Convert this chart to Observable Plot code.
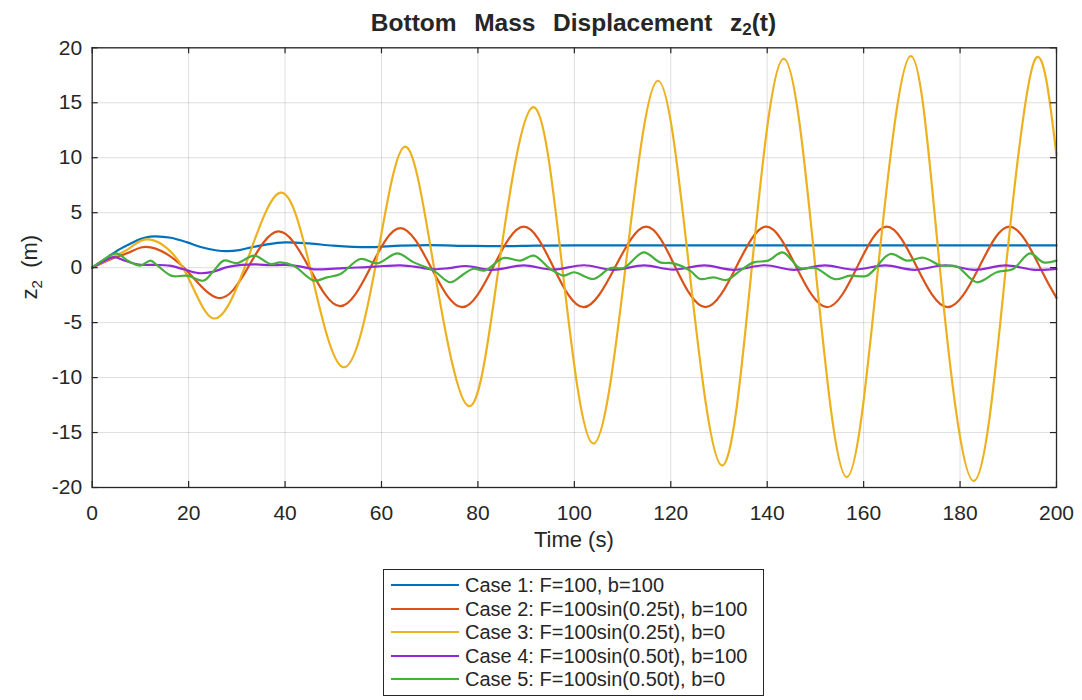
<!DOCTYPE html>
<html><head><meta charset="utf-8">
<script src="https://cdn.jsdelivr.net/npm/d3@7"></script>
<script src="https://cdn.jsdelivr.net/npm/@observablehq/plot@0.6"></script>
<style>
body{margin:0;background:#fff;font-family:"Liberation Sans",Arial,Helvetica,sans-serif;color:#262626;width:1082px;height:700px;overflow:hidden;position:relative;}
#title{position:absolute;left:91px;width:965px;top:0;height:40px;text-align:center;font-weight:bold;font-size:24.5px;line-height:46px;white-space:pre;word-spacing:2px;}
#title sub{font-size:17px;vertical-align:-4px;line-height:0;}
#chart{position:absolute;left:0;top:40px;}
#legend{position:absolute;left:383px;top:569px;width:379px;border:1px solid #262626;padding:3px 0 4px 0;font-size:20px;background:#fff;}
.row{line-height:1;display:flex;align-items:center;white-space:nowrap;}
.sw{width:68px;height:2px;margin-left:7px;margin-right:6px;flex:none;}
</style></head>
<body>
<div id="title">Bottom  Mass  Displacement  z<sub>2</sub>(t)</div>
<div id="chart"></div>
<div id="legend"></div>
<script>
const xTicks = [0,20,40,60,80,100,120,140,160,180,200];
const yTicks = [-20,-15,-10,-5,0,5,10,15,20];
const seriesNames = [
  "Case 1: F=100, b=100",
  "Case 2: F=100sin(0.25t), b=100",
  "Case 3: F=100sin(0.25t), b=0",
  "Case 4: F=100sin(0.50t), b=100",
  "Case 5: F=100sin(0.50t), b=0"
];
const seriesColors = ["#0072BD","#D95319","#EDB120","#8E2BD6","#46B03C"];

// [time (s), z2 (m)]
const case1 = [[0,0],[2,0.6],[4,1.2],[6,1.75],[8,2.2],[10,2.6],[12,2.82],[14,2.83],[16.3,2.72],[19.7,2.3],[22.5,1.88],[25.9,1.56],[28,1.5],[30.5,1.6],[33,1.85],[36,2.1],[40,2.3],[45,2.2],[50,2.0],[57,1.86],[64,2.0],[70,2.05],[78,1.98],[85,1.95],[92,2.0],[100,2.03],[120,2.03],[140,2.02],[160,2.03],[180,2.02],[200,2.02]];
const case2 = [[0,0],[4,0.8],[8,1.45],[12.1,1.85],[19,0],[26.2,-2.76],[32.3,0],[38.6,3.3],[45,0],[51.4,-3.5],[57.7,0],[63.9,3.6],[70.3,0],[76.7,-3.6],[83.1,0],[89.5,3.73],[95.7,0],[101.9,-3.6],[108.4,0],[114.9,3.73],[121,0],[127.2,-3.6],[133.5,0],[139.8,3.73],[146.1,0],[152.4,-3.6],[158.6,0],[164.8,3.73],[171.1,0],[177.4,-3.6],[183.9,0],[190.4,3.73],[196.6,0],[200,-2.75]];
const case3 = [[0,0],[4,0.9],[8,1.85],[12.1,2.55],[18.8,0],[25,-4.6],[31.6,0],[38.9,6.8],[45.2,0],[52,-9.05],[58.7,0],[64.8,11],[70.9,0],[78.1,-12.6],[84.3,0],[91.4,14.6],[97.5,0],[103.9,-16],[110.6,0],[117.3,17],[123.8,0],[130.6,-18],[136.8,0],[143.4,19],[150,0],[156.5,-19.05],[163,0],[169.8,19.25],[175.8,0],[182.9,-19.4],[189.5,0],[195.5,18.9],[200,10.2]];
const case4 = [[0,0],[2,0.5],[4.5,0.95],[7,0.6],[9.6,0.27],[13,0.25],[16,0.18],[19,-0.15],[22,-0.5],[25,-0.38],[28,0.05],[31,0.25],[34,0.3],[37,0.22],[40,0.25],[43,0.12],[46,-0.15],[49.5,-0.12],[53,-0.02],[57,0.05],[60.5,0.15],[64,0.2],[67.5,0.05],[70.5,-0.15],[74,-0.05],[77.5,0.15],[83,-0.2],[89.5,0.2],[95.5,-0.18],[102,0.22],[108,-0.2],[114.5,0.2],[120.5,-0.18],[127,0.2],[133,-0.2],[139.5,0.22],[145.5,-0.2],[152,0.2],[158,-0.18],[164.5,0.2],[170.5,-0.2],[177,0.22],[183,-0.2],[189.5,0.2],[195.5,-0.2],[200,-0.12]];
const case5 = [[0,0],[2.5,0.75],[5,1.3],[7.5,0.6],[10,0.18],[12.1,0.64],[13.5,0.2],[16.5,-0.75],[19.7,-0.73],[23.1,-1.18],[25,-0.4],[27.3,0.64],[30,0.42],[33.6,1.09],[37,0.33],[39,0.48],[41.8,0.18],[46,-1.18],[48.7,-0.88],[51.5,-0.58],[55.6,0.79],[59.1,0.39],[63.3,1.3],[66.7,0.48],[70.8,-0.27],[74.3,-1.33],[77,-0.6],[79,-0.1],[81.5,-0.25],[85.3,0.88],[88.8,0.64],[91.6,1.09],[95,-0.12],[97.8,-0.73],[99.9,-0.42],[104,-1.03],[107.5,-0.03],[110.2,-0.03],[114.4,1.39],[117.8,0.48],[120.6,0.39],[124,-0.27],[126.1,-1.03],[128.9,-0.88],[131.6,-1.12],[134.4,-0.27],[137.2,0.48],[140.2,0.64],[143.2,1.39],[146.8,-0.03],[150,-0.03],[154,-1.05],[157.2,-0.73],[160.7,-0.73],[165.5,1.24],[169,0.64],[172.4,0.9],[176,0.2],[179.3,0.1],[183.5,-1.33],[187.6,-0.42],[191,-0.12],[194.5,1.3],[197.3,0.48],[200,0.64]];

const allCases = [case1, case2, case3, case4, case5];
const curves = ["catmull-rom","natural","natural","catmull-rom","catmull-rom"];
const rows = allCases.flatMap((c, i) => c.map(([t, z]) => ({t, z, series: seriesNames[i]})));

const W = 1082, H = 517, mL = 91.7, mR = 26, mT = 7.3, mB = 70;
const innerW = W - mL - mR, innerH = H - mT - mB;
const ink = "#262626";

const plot = Plot.plot({
  width: W, height: H, marginLeft: mL, marginRight: mR, marginTop: mT, marginBottom: mB,
  style: {fontFamily: '"Liberation Sans", Arial, Helvetica, sans-serif', fontSize: "21px", color: ink, background: "white", overflow: "visible"},
  x: {domain: [0, 200]},
  y: {domain: [-20, 20]},
  marks: [
    Plot.gridX(xTicks, {stroke: ink, strokeOpacity: 0.15, strokeWidth: 1}),
    Plot.gridY(yTicks, {stroke: ink, strokeOpacity: 0.15, strokeWidth: 1}),
    ...seriesNames.map((name, i) => Plot.line(rows.filter(r => r.series === name), {
      x: "t", y: "z", stroke: seriesColors[i], strokeWidth: 2.2, curve: curves[i]
    })),
    Plot.ruleX(xTicks, {x: d => d, insetBottom: innerH - 6, stroke: ink, strokeWidth: 1.2}),
    Plot.ruleX(xTicks, {x: d => d, insetTop: innerH - 6, stroke: ink, strokeWidth: 1.2}),
    Plot.ruleY(yTicks, {y: d => d, insetRight: innerW - 6, stroke: ink, strokeWidth: 1.2}),
    Plot.ruleY(yTicks, {y: d => d, insetLeft: innerW - 6, stroke: ink, strokeWidth: 1.2}),
    Plot.axisX(xTicks, {tickSize: 0, tickPadding: 18, label: null, tickFormat: d => String(d), fontSize: 21, fill: ink}),
    Plot.axisY(yTicks, {tickSize: 0, tickPadding: 10, label: null, tickFormat: d => String(d), fontSize: 21, fill: ink}),
    Plot.frame({stroke: ink, strokeWidth: 1.3})
  ]
});

const svg = d3.select(plot);
const yl = svg.append("text")
  .attr("transform", `translate(37,${mT + innerH / 2}) rotate(-90)`)
  .attr("text-anchor", "middle").attr("font-size", 22).attr("fill", ink);
yl.append("tspan").text("z");
yl.append("tspan").attr("font-size", 15).attr("dy", 5).text("2");
yl.append("tspan").attr("dy", -5).text("\u00a0\u00a0(m)");
svg.append("text")
  .attr("x", mL + innerW / 2).attr("y", 507)
  .attr("text-anchor", "middle").attr("font-size", 22).attr("fill", ink)
  .text("Time (s)");

document.getElementById("chart").appendChild(plot);

const rowHeights = [24, 23, 24, 23, 24];
const legend = d3.select("#legend");
seriesNames.forEach((name, i) => {
  const row = legend.append("div").attr("class", "row").style("height", rowHeights[i] + "px");
  row.append("div").attr("class", "sw").style("background", seriesColors[i]);
  row.append("span").text(name);
});
</script>
</body></html>
